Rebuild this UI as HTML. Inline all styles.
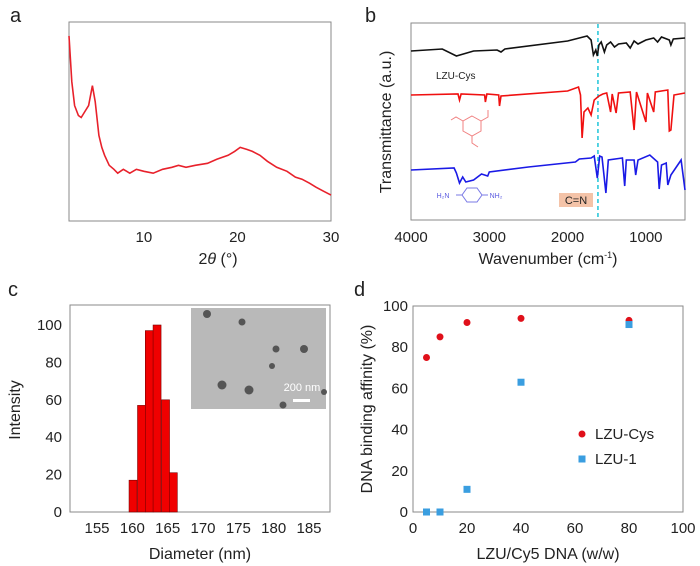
<!DOCTYPE html>
<html><head><meta charset="utf-8"><style>
html,body{margin:0;padding:0;background:#fff;}
svg{display:block;font-family:"Liberation Sans",Arial,sans-serif;}
</style></head><body>
<svg id="fig" width="700" height="566" viewBox="0 0 700 566"></svg>
<script>
// ---- Panel a: XRD ----
const xrdTheta = [2,2.3,2.6,3.0,3.3,3.7,4.1,4.5,4.8,5.2,5.5,5.8,6.3,6.8,7.2,7.8,8.5,9.2,10,11,12,13,13.7,14.5,15.5,16.8,17.8,19,19.7,20.3,21,21.6,22.4,23.2,24.2,25.3,26.2,26.9,27.7,28.4,29.2,30];
const xrdInt   = [93,70,58,53,52,55,58,68,60,43,37,33,28,26,24,26,24,26,25,24,26,27,28,27,28,29,31,33,35,37,36,35,33,30,27,25,22,21,19,17,15,13];
// ---- Panel b: FTIR ----
const irBlackWn = [4000,3600,3420,3200,2900,2850,2800,2000,1750,1700,1670,1640,1620,1600,1570,1530,1500,1450,1400,1350,1250,1200,1150,1100,1000,900,850,800,700,680,650,500];
const irBlackT  = [169,171,164,169,170,168,171,179,184,180,165,170,164,175,178,168,175,178,173,176,177,172,179,176,180,182,178,183,180,175,181,182];
const irRedWn = [4000,3400,3380,3360,3060,3050,3030,2880,2870,2850,2000,1860,1835,1815,1790,1740,1700,1660,1600,1550,1500,1450,1430,1380,1350,1200,1150,1120,1000,980,900,880,720,700,680,640,500];
const irRedT  = [125,126,120,126,125,118,126,125,114,124,129,133,125,82,108,112,105,120,124,126,127,108,126,107,127,128,90,128,98,127,108,128,130,89,90,125,127];
const irBlueWn = [4000,3450,3420,3380,3340,3300,3200,3100,3020,3000,2500,1900,1850,1700,1660,1620,1590,1560,1510,1480,1300,1270,1250,1150,1130,1100,950,850,830,800,740,720,680,550,500];
const irBlueT  = [50,52,47,37,43,38,40,46,44,48,53,58,61,62,64,42,64,63,27,60,62,34,60,60,45,60,65,58,31,55,57,35,45,60,30];
const cnWavenumber = 1612;
// ---- Panel c: DLS ----
const dlsDiameter = [160.1,161.3,162.4,163.5,164.7,165.8];
const dlsIntensity = [17,57,97,100,60,21];
const dlsTicks = [155,160,165,170,175,180,185];
const dlsYTicks = [0,20,40,60,80,100];
// ---- Panel d: binding ----
const ratio = [5,10,20,40,80];
const lzuCys = [75,85,92,94,93];
const lzu1 = [0,0,11,63,91];
const dTicks = [0,20,40,60,80,100];

const svg = document.getElementById('fig');
const NS = 'http://www.w3.org/2000/svg';
function mk(tag, attrs, parent){ const e=document.createElementNS(NS,tag); for(const k in attrs) e.setAttribute(k,attrs[k]); (parent||svg).appendChild(e); return e; }
function txt(x,y,s,size,anchor,parent,extra){ const t=mk('text',Object.assign({x:x,y:y,'font-size':size,'text-anchor':anchor||'middle',fill:'#222'},extra||{}),parent); t.textContent=s; return t; }
function poly(xs,ys,sx,sy){ return xs.map((v,i)=>sx(v).toFixed(1)+','+sy(ys[i]).toFixed(1)).join(' '); }

// ===== Panel a =====
const ga = mk('g',{});  
const ax = v => 69 + (v-2)/28*262, ay = v => 221 - v/100*199;
let t = txt(10,22,'a',20,'start',ga);  
let r = mk('rect',{x:69,y:22,width:262,height:199,fill:'none',stroke:'#8a8a8a','stroke-width':1},ga);  
let l = mk('polyline',{points:poly(xrdTheta,xrdInt,ax,ay),fill:'none',stroke:'#e8212b','stroke-width':1.6},ga);  
[10,20,30].forEach(v=>{ const tt=txt(ax(v),242,String(v),15,'middle',ga);   });
t = txt(218,264,'',16,'middle',ga); t.innerHTML='2<tspan font-style="italic">θ</tspan> (°)';  

// ===== Panel b =====
const gb = mk('g',{});  
const bx = w => 411 + (4000-w)/3500*274, by = v => 220 - v;
t = txt(365,22,'b',20,'start',gb);  
r = mk('rect',{x:411,y:23,width:274,height:197,fill:'none',stroke:'#8a8a8a','stroke-width':1},gb);  
l = mk('line',{x1:bx(cnWavenumber),x2:bx(cnWavenumber),y1:24,y2:219,stroke:'#1fc4d8','stroke-width':1.5,'stroke-dasharray':'4,3'},gb);  
l = mk('polyline',{points:poly(irBlackWn,irBlackT,bx,by),fill:'none',stroke:'#111','stroke-width':1.6},gb);  
l = mk('polyline',{points:poly(irRedWn,irRedT,bx,by),fill:'none',stroke:'#f01010','stroke-width':1.6},gb);  
l = mk('polyline',{points:poly(irBlueWn,irBlueT,bx,by),fill:'none',stroke:'#1a1ae6','stroke-width':1.6},gb);  
t = txt(436,79,'LZU-Cys',10,'start',gb);  
let hex = mk('g',{stroke:'#f08080',fill:'none','stroke-width':1},gb);  
mk('polygon',{points:'472,116 481,121 481,131 472,136 463,131 463,121'},hex);
mk('polyline',{points:'463,121 456,117 451,120'},hex);
mk('polyline',{points:'481,121 488,117 488,110'},hex);
mk('polyline',{points:'472,136 472,143 478,147'},hex);
let hb = mk('g',{},gb);  
mk('polygon',{points:'467,188 477,188 482,195 477,202 467,202 462,195',fill:'none',stroke:'#7a7ae6','stroke-width':1},hb);
mk('line',{x1:456,y1:195,x2:462,y2:195,stroke:'#7a7ae6'},hb); mk('line',{x1:482,y1:195,x2:488,y2:195,stroke:'#7a7ae6'},hb);
txt(443,198,'H₂N',7,'middle',hb,{fill:'#5a5ae0'}); txt(496,198,'NH₂',7,'middle',hb,{fill:'#5a5ae0'});
r = mk('rect',{x:559,y:193,width:34,height:14,fill:'#f4c3a8'},gb);  
t = txt(576,204,'C=N',11,'middle',gb);  
[4000,3000,2000,1000].forEach(v=>{ const tt=txt(bx(v),242,String(v),15,'middle',gb);   });
t = txt(548,264,'',16,'middle',gb); t.innerHTML='Wavenumber (cm<tspan font-size="9" dy="-6">-1</tspan><tspan dy="6">)</tspan>';  
t = txt(0,0,'Transmittance (a.u.)',16,'middle',gb,{transform:'translate(391,122) rotate(-90)'});  

// ===== Panel c =====
const gc = mk('g',{});  
const cx = v => 97 + (v-155)*212/30, cy = v => 512 - v*1.87;
t = txt(8,296,'c',20,'start',gc);  
r = mk('rect',{x:70,y:305,width:260,height:207,fill:'none',stroke:'#8a8a8a','stroke-width':1},gc);  
dlsDiameter.forEach((d,i)=>{ const b=mk('rect',{x:cx(d-0.565),y:cy(dlsIntensity[i]),width:1.13*212/30,height:cy(0)-cy(dlsIntensity[i]),fill:'#f00000',stroke:'#7a0000','stroke-width':0.6},gc);
 
  });
dlsTicks.forEach(v=>{ const tt=txt(cx(v),533,String(v),15,'middle',gc);   });
dlsYTicks.forEach(v=>{ const tt=txt(62,cy(v)+5,String(v),15,'end',gc);   });
t = txt(200,559,'Diameter  (nm)',16,'middle',gc);  
t = txt(0,0,'Intensity',16,'middle',gc,{transform:'translate(20,410) rotate(-90)'});  
const gi = mk('g',{},gc);  
mk('rect',{x:191,y:308,width:135,height:101,fill:'#b9b9b9'},gi);
[[207,314,4],[242,322,3.5],[276,349,3.5],[304,349,4],[272,366,3],[222,385,4.5],[249,390,4.5],[283,405,3.5],[324,392,3]].forEach(p=>mk('circle',{cx:p[0],cy:p[1],r:p[2],fill:'#555'},gi));
txt(302,391,'200 nm',11,'middle',gi,{fill:'#fff'});
mk('rect',{x:293,y:399,width:17,height:3,fill:'#fff'},gi);

// ===== Panel d =====
const gd = mk('g',{});  
const dx = v => 413 + v*2.7, dy = v => 512 - v*2.06;
t = txt(354,296,'d',20,'start',gd);  
r = mk('rect',{x:413,y:306,width:270,height:206,fill:'none',stroke:'#8a8a8a','stroke-width':1},gd);  
dTicks.forEach(v=>{ let tt=txt(dx(v),533,String(v),15,'middle',gd);  
 tt=txt(408,dy(v)+5,String(v),15,'end',gd);   });
ratio.forEach((x,i)=>{ const c=mk('circle',{cx:dx(x),cy:dy(lzuCys[i]),r:3.5,fill:'#e0101a'},gd);
 
 
 const s=mk('rect',{x:dx(x)-3.5,y:dy(lzu1[i])-3.5,width:7,height:7,fill:'#3a9ee0'},gd);
 
  });
let le = mk('g',{},gd);  
mk('circle',{cx:582,cy:434,r:3.5,fill:'#e0101a'},le); txt(595,439,'LZU-Cys',15,'start',le);
mk('rect',{x:578.5,y:455.5,width:7,height:7,fill:'#3a9ee0'},le); txt(595,464,'LZU-1',15,'start',le);
t = txt(548,559,'LZU/Cy5 DNA (w/w)',16,'middle',gd);  
t = txt(0,0,'DNA binding affinity (%)',16,'middle',gd,{transform:'translate(372,409) rotate(-90)'});  
</script>
</body></html>
